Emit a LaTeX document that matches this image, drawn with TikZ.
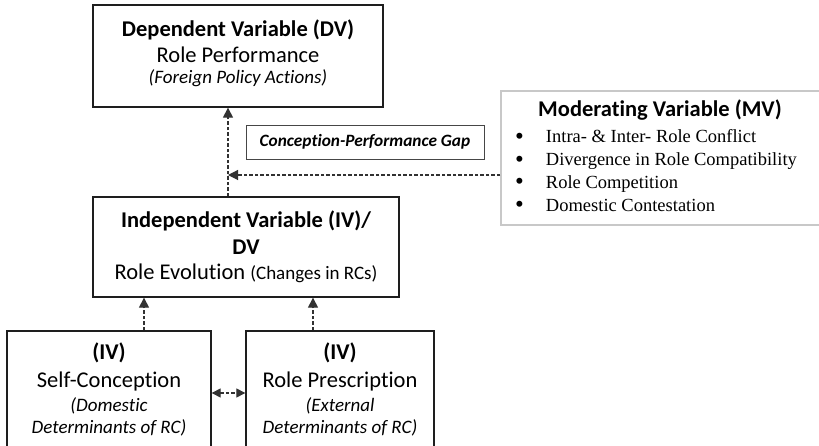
\documentclass[tikz,border=0pt]{standalone}
\usepackage{fontspec}
\setmainfont{Carlito}[Ligatures=NoCommon]
\newfontfamily\listfont{Liberation Serif}
\usepackage{tikz}
\usetikzlibrary{
  arrows.meta,
  positioning,
  calc
}
\definecolor{boxcolor}{RGB}{30, 30, 30}
\definecolor{mvcolor}{RGB}{200, 200, 200}
\definecolor{gapcolor}{RGB}{70, 70, 70}
\definecolor{arrowcolor}{RGB}{50, 50, 50}
\newcommand{\vhead}{\fontsize{22.5}{26}\selectfont\bfseries}
\newcommand{\vnote}{\fontsize{19}{22}\selectfont\itshape}
\newcommand{\mvbullet}{{\fontsize{25}{22}\selectfont\raisebox{-1.5pt}{•}}}
\newcommand{\lowpad}[1]{\rule[-#1]{0pt}{#1}}
\tikzset{
varbox/.style={
  draw=boxcolor,
  line width=1.3pt,
  align=center,
  inner sep=0pt,
  font=\fontsize{22.5}{25.5}\selectfont
},
mvbox/.style={
  draw=mvcolor,
  line width=1.2pt,
  inner sep=0pt
},
gapbox/.style={
  draw=gapcolor,
  line width=0.9pt,
  inner sep=0pt,
  font=\fontsize{17.3}{20}\selectfont\bfseries\itshape
},
listtext/.style={
  inner sep=0pt,
  font=\listfont\fontsize{18.5}{22.7}\selectfont
},
dasharrow/.style={
  -{Triangle[length=10pt,width=10pt]},
  line width=1.1pt,
  draw=arrowcolor,
  dash pattern=on 3.5pt off 2pt
},
dashboth/.style={
  dasharrow,
  {Triangle[length=9pt,width=9pt]}-{Triangle[length=9pt,width=9pt]}
}
}

\begin{document}
\begin{tikzpicture}[x=1pt,y=-1pt]
\useasboundingbox (0,0) rectangle (819,446);
\fill[white] (0,0) rectangle (819,446);
\clip (0,0) rectangle (819,446);

% variable boxes
\node[varbox, minimum width=290, minimum height=102] (dv) at (238,56)
  {{\vhead Dependent Variable (DV)}\\
   Role Performance\\[-4pt]
   {\vnote (Foreign Policy Actions)}\lowpad{8pt}};
\node[varbox, minimum width=306, minimum height=100] (iv) at (246,247)
  {{\vhead Independent Variable (IV)/}\\[1pt]
   {\vhead DV}\\
   Role Evolution {\fontsize{19}{22}\selectfont(Changes in RCs)}\lowpad{2pt}};
\node[varbox, minimum width=204, minimum height=124] (sc) at (109,393)
  {{\vhead (IV)}\\[3pt]
   Self-Conception\\[-2pt]
   {\vnote (Domestic}\\[-3pt]
   {\vnote Determinants of RC)}\lowpad{10pt}};
\node[varbox, minimum width=188, minimum height=124] (rp) at (340,393)
  {{\vhead (IV)}\\[3pt]
   Role Prescription\\[-2pt]
   {\vnote (External}\\[-3pt]
   {\vnote Determinants of RC)}\lowpad{10pt}};

\node[gapbox, minimum width=238, minimum height=34] (gap) at (365,142)
  {Conception-Performance Gap};

% moderating variable
\node[mvbox, minimum width=329, minimum height=134] (mv) at (665.5,158) {};
\node[inner sep=0pt, font=\vhead] (mvhead) at (660,110) {Moderating Variable (MV)};
\node[listtext, anchor=base west] (mvlist) at (515,143)
  {\begin{tabular}[t]{@{}l@{\hspace{22pt}}l@{}}
   \mvbullet & Intra- \& Inter- Role Conflict\\
   \mvbullet & Divergence in Role Compatibility\\
   \mvbullet & Role Competition\\
   \mvbullet & Domestic Contestation
   \end{tabular}};

% connectors
\coordinate (join) at (228,175);
\draw[dasharrow] (iv.north -| join) -- (dv.south -| join);
\draw[dasharrow] (mv.west |- join) -- (join);
\draw[dasharrow] ([xshift=35]sc.north) -- ([xshift=35]sc.north |- iv.south);
\draw[dasharrow] ([xshift=-27]rp.north) -- ([xshift=-27]rp.north |- iv.south);
\draw[dashboth] (sc.east) -- (rp.west);
\end{tikzpicture}
\end{document}
